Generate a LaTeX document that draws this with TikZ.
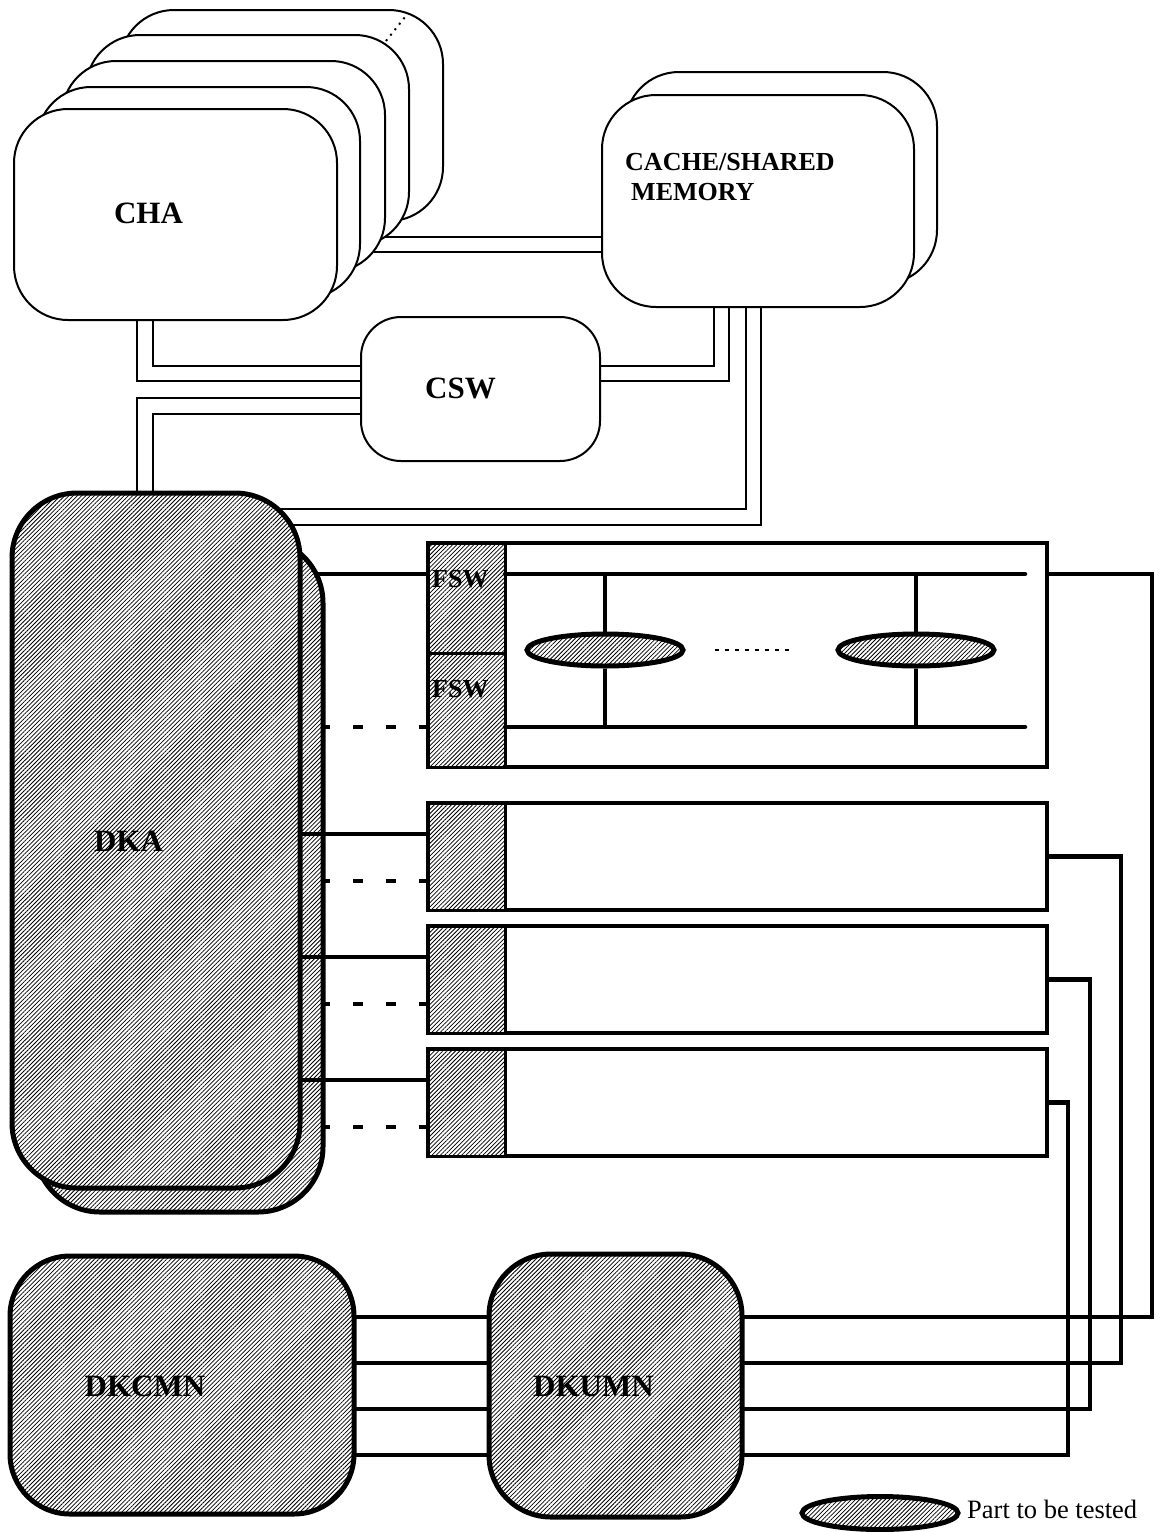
\documentclass[tikz,border=0pt]{standalone}
\usepackage{fontspec}
\setmainfont{Liberation Serif}
\usetikzlibrary{positioning, calc, backgrounds, shapes.geometric, patterns.meta}

\begin{document}
\begin{tikzpicture}[x=1pt, y=-1pt,
  wbox/.style={draw, line width=2pt, fill=white, rounded corners=54pt,
               inner sep=0pt, outer sep=0pt},
  hatch/.style={preaction={fill=white},
                pattern={Lines[angle=45, distance=3pt, line width=0.8pt]}},
  hbox/.style={draw, hatch, line width=5pt, rounded corners=65pt,
               inner sep=0pt, outer sep=0pt},
  frame/.style={draw, line width=4.5pt, inner sep=0pt, outer sep=0pt,
                minimum width=619pt},
  cell/.style={draw, hatch, line width=3pt, inner sep=0pt, outer sep=0pt,
               minimum width=77pt},
  disk/.style={ellipse, draw, hatch, line width=5pt, inner sep=0pt,
               minimum width=156pt, minimum height=32pt},
  big/.style={font=\bfseries\fontsize{31}{37}\selectfont, inner sep=0pt},
  mid/.style={font=\bfseries\fontsize{26}{30}\selectfont, inner sep=0pt},
  thinw/.style={line width=2pt},
  wire/.style={line width=4.5pt},
  dwire/.style={line width=4.5pt, dash pattern=on 10pt off 23pt, dash phase=3pt}
]
  \useasboundingbox (0,0) rectangle (1163,1532);

  % channel adapters
  \foreach \i/\x/\y in {5/281.5/115.5, 4/247.5/140.5, 3/223.5/166.5,
                        2/198.5/192.5, 1/175.5/214.5}
    \node[wbox, minimum width=323pt, minimum height=211pt] (cha\i) at (\x,\y) {};
  \node[big] (chatxt) at (148.5,213.5) {CHA};
  \draw[thinw, dash pattern=on 2pt off 5pt] (386,41) -- (405,17);

  \node[wbox, minimum width=312pt, minimum height=212pt] (cache2) at (781,178) {};
  \node[wbox, minimum width=312pt, minimum height=212pt] (cache1) at (758,201) {};
  \node[mid, anchor=north west, align=left] (cachetxt) at (625,153)
    {CACHE/SHARED\\\hspace{6pt}MEMORY};

  \node[wbox, rounded corners=40pt, minimum width=239pt, minimum height=144pt]
    (csw) at (480.5,389) {};
  \node[big] (cswtxt) at (460.5,388.5) {CSW};

  % disk adapters
  \node[hbox, minimum width=288pt, minimum height=674pt] (dka2) at (179,875) {};
  \node[hbox, minimum width=288pt, minimum height=695pt] (dka1) at (156,840.5) {};
  \node[big] (dkatxt) at (128.5,841) {DKA};

  \node[hbox, rounded corners=60pt, minimum width=344pt, minimum height=258pt]
    (dkcmn) at (182,1385) {};
  \node[big] (dkcmntxt) at (145,1386) {DKCMN};
  \node[hbox, rounded corners=62pt, minimum width=253pt, minimum height=263pt]
    (dkumn) at (615.5,1385.5) {};
  \node[big] (dkumntxt) at (593.5,1386) {DKUMN};

  % fibre switch group
  \node[frame, minimum height=224pt] (fsw) at (737.5,655) {};
  \node[cell, minimum height=110pt, anchor=north west] (fsw1) at (fsw.north west) {};
  \node[cell, minimum height=114pt, anchor=south west] (fsw2) at (fsw.south west) {};
  \node[mid, anchor=west] (fswtxt1) at (432,579) {FSW};
  \node[mid, anchor=west] (fswtxt2) at (432,689) {FSW};

  \node[disk] (hdd1) at (605,650) {};
  \node[disk] (hdd2) at (916,650) {};
  \coordinate (bus1) at (1025,574);
  \coordinate (bus2) at (1025,727);
  \draw[wire, line cap=round] (fsw1.east |- bus1) -- (bus1);
  \draw[wire, line cap=round] (fsw2.east |- bus2) -- (bus2);
  \foreach \h in {hdd1, hdd2} {
    \draw[wire] (\h.north) -- (\h.north |- bus1);
    \draw[wire] (\h.south) -- (\h.south |- bus2);
  }
  \draw[thinw, dash pattern=on 4pt off 6pt] ($(hdd1.east)+(29,0)$) -- ($(hdd2.west)+(-43,0)$);

  \node[frame, minimum height=107pt, below=36pt of fsw] (d2) {};
  \node[frame, minimum height=107pt, below=16pt of d2] (d3) {};
  \node[frame, minimum height=107pt, below=16pt of d3] (d4) {};
  \foreach \d in {d2, d3, d4} {
    \node[cell, minimum height=107pt, anchor=north west] (col\d) at (\d.north west) {};
    \coordinate (s\d) at ($(\d.north west)+(0,31)$);
    \coordinate (t\d) at ($(\d.north west)+(0,78)$);
    \draw[wire] (dka1.east |- s\d) -- (s\d);
    \draw[dwire] (dka2.east |- t\d) -- (t\d);
  }
  \draw[dwire] (dka2.east |- bus2) -- (fsw.west |- bus2);

  % legend
  \node[disk, minimum height=33pt] (legdisk) at (880,1513) {};
  \node[font=\fontsize{26.5}{30}\selectfont, inner sep=0pt, anchor=base west]
    (legtxt) at (967,1518) {Part to be tested};

  \draw[thinw] (cha1.south -| 153,0) |- (csw.west |- 0,366);
  \draw[thinw] (cha1.south -| 137,0) |- (csw.west |- 0,381);
  \draw[thinw] (dka1.north -| 137,0) |- (csw.west |- 0,398);
  \draw[thinw] (dka1.north -| 153,0) |- (csw.west |- 0,414);
  \draw[thinw] (csw.east |- 0,366) -| (cache1.south -| 714,0);
  \draw[thinw] (csw.east |- 0,381) -| (cache1.south -| 729,0);

  \begin{scope}[on background layer]
    \draw[thinw] (cha3.center |- 0,237) -- (cache1.west |- 0,237);
    \draw[thinw] (cha3.center |- 0,252) -- (cache1.west |- 0,252);
    \draw[thinw] (cache1.south -| 746,0) |- (dka1.center |- 0,509);
    \draw[thinw] (cache1.south -| 761,0) |- (dka1.center |- 0,525);
    \draw[wire] (dka2.center |- bus1) -- (fsw.west |- bus1);
    \draw[wire] (fsw.east |- bus1) -| (1152,1317) -- (dkcmn.east |- 0,1317);
    \foreach \d/\x/\y in {d2/1121/1363, d3/1090/1409, d4/1068/1455}
      \draw[wire] (\d.east) -| (\x,\y) -- (dkcmn.east |- 0,\y);
  \end{scope}
\end{tikzpicture}
\end{document}
